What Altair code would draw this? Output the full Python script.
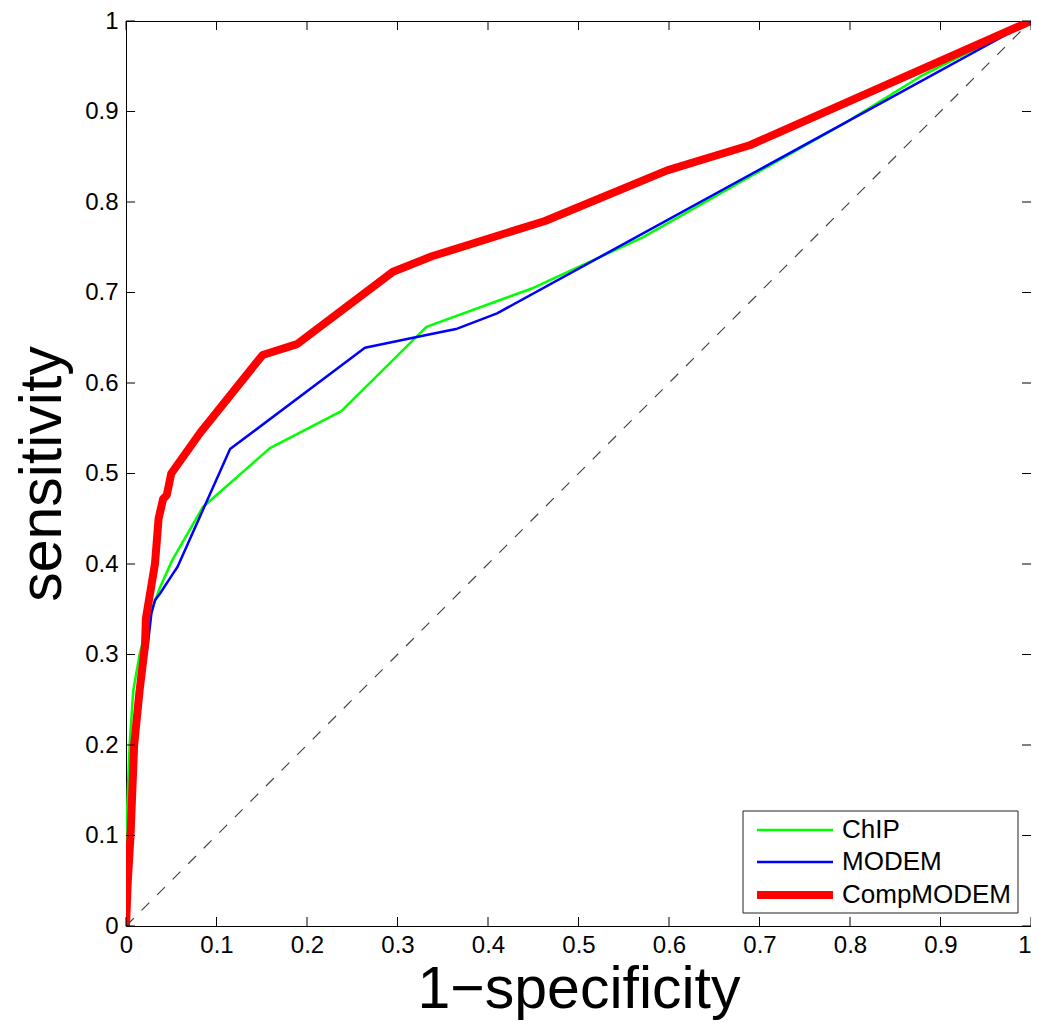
import altair as alt
import pandas as pd

# ---- data ----
methods = ["ChIP", "MODEM", "CompMODEM"]
colors = ["#00ff00", "#0000ff", "#ff0000"]
widths = [2.5, 2.5, 8]

chip_x = [0, 0, 0.002, 0.004, 0.008, 0.015, 0.025, 0.0375, 0.051, 0.085, 0.159, 0.238, 0.332, 0.45, 0.571, 0.686, 0.794, 0.88, 1]
chip_y = [0, 0.09, 0.15, 0.2, 0.26, 0.3, 0.34, 0.374, 0.404, 0.463, 0.528, 0.569, 0.662, 0.705, 0.761, 0.826, 0.887, 0.94, 1]

modem_x = [0, 0.005, 0.01, 0.018, 0.024, 0.028, 0.032, 0.038, 0.051, 0.057, 0.115, 0.264, 0.332, 0.366, 0.41, 1]
modem_y = [0, 0.1, 0.2, 0.28, 0.31, 0.345, 0.36, 0.368, 0.388, 0.397, 0.527, 0.639, 0.653, 0.66, 0.677, 1]

comp_x = [0, 0.002, 0.005, 0.009, 0.015, 0.021, 0.022, 0.027, 0.032, 0.036, 0.041, 0.045, 0.05, 0.082, 0.151, 0.189, 0.295, 0.338, 0.463, 0.598, 0.69, 1]
comp_y = [0, 0.05, 0.1, 0.2, 0.26, 0.31, 0.34, 0.37, 0.40, 0.45, 0.472, 0.476, 0.5, 0.545, 0.631, 0.643, 0.723, 0.74, 0.779, 0.835, 0.863, 1]

diag_x = [0, 1]
diag_y = [0, 1]

tick_vals = [0, 0.1, 0.2, 0.3, 0.4, 0.5, 0.6, 0.7, 0.8, 0.9, 1]

series = [(chip_x, chip_y), (modem_x, modem_y), (comp_x, comp_y)]

W = 905
H = 905
FONT = "Liberation Sans"
TICK = 9

xs = alt.Scale(domain=[0, 1], nice=False, zero=False)
ys = alt.Scale(domain=[0, 1], nice=False, zero=False)

xaxis = alt.Axis(values=tick_vals, format="~g", title="1\u2212specificity",
                 titleY=81, titleBaseline="alphabetic", labelPadding=7,
                 labelAlign={"expr": "datum.value >= 1 ? 'right' : 'center'"})
yaxis = alt.Axis(values=tick_vals, format="~g", title="sensitivity",
                 titleX=-66, titleY=H / 2, titleAngle=270, titleAlign="center",
                 titleBaseline="alphabetic", labelPadding=8)


def X():
    return alt.X("x:Q", scale=xs, axis=xaxis)


def Y():
    return alt.Y("y:Q", scale=ys, axis=yaxis)


layers = []

for (sx, sy), c, w in zip(series, colors, widths):
    df = pd.DataFrame({"x": sx, "y": sy, "i": list(range(len(sx)))})
    layers.append(
        alt.Chart(df).mark_line(color=c, strokeWidth=w, strokeJoin="round", clip=True)
        .encode(x=X(), y=Y(), order="i:Q")
    )

diag_df = pd.DataFrame({"x": diag_x, "y": diag_y})
layers.append(
    alt.Chart(diag_df).mark_line(color="#444444", strokeWidth=1.2, strokeDash=[11, 11])
    .encode(x=X(), y=Y())
)

# inward ticks on all four sides
xt = pd.DataFrame({"x": tick_vals})
yt = pd.DataFrame({"y": tick_vals})
layers.append(alt.Chart(xt).mark_rule(color="black", strokeWidth=1)
              .encode(x=X(), y=alt.value(H), y2=alt.value(H - TICK)))
layers.append(alt.Chart(xt).mark_rule(color="black", strokeWidth=1)
              .encode(x=X(), y=alt.value(0), y2=alt.value(TICK)))
layers.append(alt.Chart(yt).mark_rule(color="black", strokeWidth=1)
              .encode(y=Y(), x=alt.value(0), x2=alt.value(TICK)))
layers.append(alt.Chart(yt).mark_rule(color="black", strokeWidth=1)
              .encode(y=Y(), x=alt.value(W), x2=alt.value(W - TICK)))

# legend box
box_df = pd.DataFrame({"k": [0]})
layers.append(alt.Chart(box_df).mark_rect(fill="white", stroke="#222222", strokeWidth=1)
              .encode(x=alt.value(617), x2=alt.value(892), y=alt.value(790), y2=alt.value(892)))
row_y = [809, 841, 874]
for m, c, w, ry in zip(methods, colors, widths, row_y):
    ldf = pd.DataFrame({"label": [m]})
    layers.append(alt.Chart(ldf).mark_rule(color=c, strokeWidth=w)
                  .encode(x=alt.value(631), x2=alt.value(707), y=alt.value(ry)))
    layers.append(alt.Chart(ldf).mark_text(align="left", baseline="middle", fontSize=26,
                                           font=FONT, color="black")
                  .encode(x=alt.value(716), y=alt.value(ry), text="label:N"))

chart = (
    alt.layer(*layers)
    .properties(width=W, height=H,
                padding={"left": 118, "top": 13, "right": 0, "bottom": 94},
                autosize=alt.AutoSizeParams(type="none"))
    .configure_view(stroke="black", strokeWidth=1)
    .configure_axis(grid=False, ticks=False, domain=False, labelFont=FONT, labelFontSize=24,
                    labelColor="black", labelFlush=False, labelOverlap=False,
                    titleFont=FONT, titleFontSize=59, titleFontWeight="normal",
                    titleColor="black")
)

chart.save("out.html", embed_options={"renderer": "svg", "actions": False})
